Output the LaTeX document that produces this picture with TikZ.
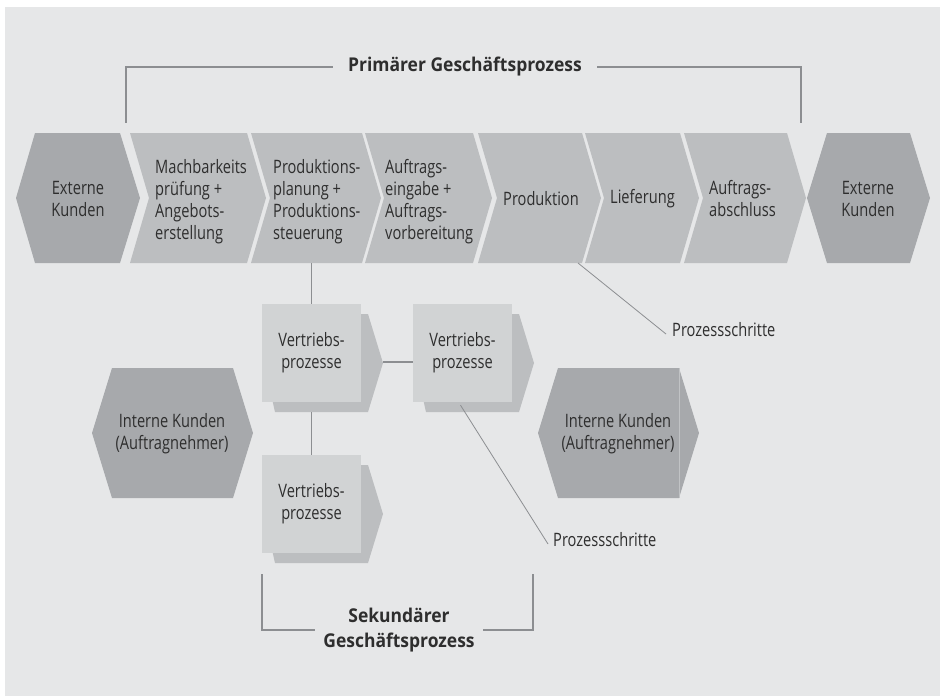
\documentclass[tikz,border=0pt]{standalone}
\usepackage{fontspec}
\setmainfont{Open Sans}[FakeStretch=0.79,BoldFeatures={FakeStretch=0.92}]
\usetikzlibrary{positioning}
\definecolor{bggray}{HTML}{E6E7E8}
\definecolor{hexgray}{HTML}{A7A9AC}
\definecolor{chevgray}{HTML}{BCBEC0}
\definecolor{boxgray}{HTML}{D1D3D4}
\definecolor{linegray}{HTML}{8C8E91}
\definecolor{txtgray}{HTML}{2E2E2E}
\begin{document}
\begin{tikzpicture}[x=1pt,y=-1pt]
    \tikzset{
    gp hex/.style={fill=hexgray},
    gp chev/.style={fill=chevgray},
    gp text/.style={font=\fontsize{18.5}{22}\selectfont,text=txtgray,inner sep=0,align=left},
    gp box/.style={gp text,fill=boxgray,minimum width=99,minimum height=98,align=center},
    gp title/.style={font=\fontsize{19}{25}\selectfont\bfseries,text=txtgray,inner sep=0,align=center},
    gp line/.style={draw=linegray,line width=1.1pt}
    }
    \useasboundingbox (0,0) rectangle (940,696);
    \fill[bggray] (5,7) rectangle (940,696);

    % primaerer prozess
    \fill[gp hex] (16,198) -- (35,133) -- (120,133) -- (140,198) -- (120,263) -- (35,263) -- cycle;
    \fill[gp hex] (807,198) -- (827,133) -- (910,133) -- (930,198) -- (910,263) -- (827,263) -- cycle;
    \foreach \a/\b in {130/247,251/362,365/473,478/582,585/680,684/787}
        \fill[gp chev] (\a,133) -- (\b,133) -- (\b+19,198) -- (\b,263) -- (\a,263) -- (\a+19,198) -- cycle;

    \node[gp text,align=center] (ek1) at (78,199) {Externe\\Kunden};
    \node[gp text,anchor=west] (mp) at (155,202) {Machbarkeits\\prüfung +\\Angebots-\\erstellung};
    \node[gp text,anchor=west] (pp) at (273,202) {Produktions-\\planung +\\Produktions-\\steuerung};
    \node[gp text,anchor=west] (ae) at (385,202) {Auftrags-\\eingabe +\\Auftrags-\\vorbereitung};
    \node[gp text,anchor=west] (pr) at (503,199) {Produktion};
    \node[gp text,anchor=west] (li) at (610,199) {Lieferung};
    \node[gp text,anchor=west] (ab) at (709,199) {Auftrags-\\abschluss};
    \node[gp text,align=center] (ek2) at (868,199) {Externe\\Kunden};

    \node[gp title,minimum width=264] (prim) at (465,67) {Primärer Geschäftsprozess};
    \coordinate (prim l) at (126,123);
    \coordinate (prim r) at (801,123);
    \draw[gp line] (prim.west) -| (prim l);
    \draw[gp line] (prim.east) -| (prim r);

    % interne kunden
    \fill[gp hex] (92,433) -- (112,368) -- (233,368) -- (253,433) -- (233,498) -- (112,498) -- cycle;
    \fill[gp hex] (538,433) -- (558,368) -- (679,368) -- (699,433) -- (679,498) -- (558,498) -- cycle;
    \draw[hexgray!70!white,line width=0.6pt] (679,368) -- (679,498);
    \node[gp text,align=center] (ik1) at (172,434) {Interne Kunden\\(Auftragnehmer)};
    \node[gp text,align=center] (ik2) at (618,434) {Interne Kunden\\(Auftragnehmer)};

    % sekundaerer prozess
    \foreach \x/\y in {262/304,413/304,262/455}
        \fill[gp chev] (\x+13,\y+10) -- (\x+106,\y+10) -- (\x+121,\y+59) -- (\x+106,\y+108) -- (\x+13,\y+108) -- (\x+2,\y+59) -- cycle;
    \node[gp box] (v1) at (311.5,353) {Vertriebs-\\prozesse};
    \node[gp box] (v2) at (462.5,353) {Vertriebs-\\prozesse};
    \node[gp box] (v3) at (311.5,504) {Vertriebs-\\prozesse};

    \coordinate (pp bot) at (311.5,263);
    \coordinate (v1 bot) at (311.5,412);
    \coordinate (v1 tip) at (383,362);
    \draw[gp line] (pp bot) -- (v1.north);
    \draw[gp line] (v1 bot) -- (v3.north);
    \draw[gp line] (v1 tip) -- (v1 tip -| v2.west);

    \node[gp text,anchor=west] (ps1) at (672,330) {Prozessschritte};
    \node[gp text,anchor=west] (ps2) at (553,540) {Prozessschritte};
    \coordinate (pr bot) at (578,263);
    \draw[gp line,line width=0.8pt] (pr bot) -- ([xshift=-6pt,yshift=-4pt]ps1.west);
    \draw[gp line,line width=0.8pt] ([xshift=-2pt,yshift=-3pt]v2.south) -- ([xshift=-5pt,yshift=-4pt]ps2.west);

    \node[gp title,minimum width=168] (sek) at (399,630) {Sekundärer\\Geschäftsprozess};
    \coordinate (sek l) at (262,574);
    \coordinate (sek r) at (533,574);
    \draw[gp line] (sek.west) -| (sek l);
    \draw[gp line] (sek.east) -| (sek r);
\end{tikzpicture}
\end{document}
